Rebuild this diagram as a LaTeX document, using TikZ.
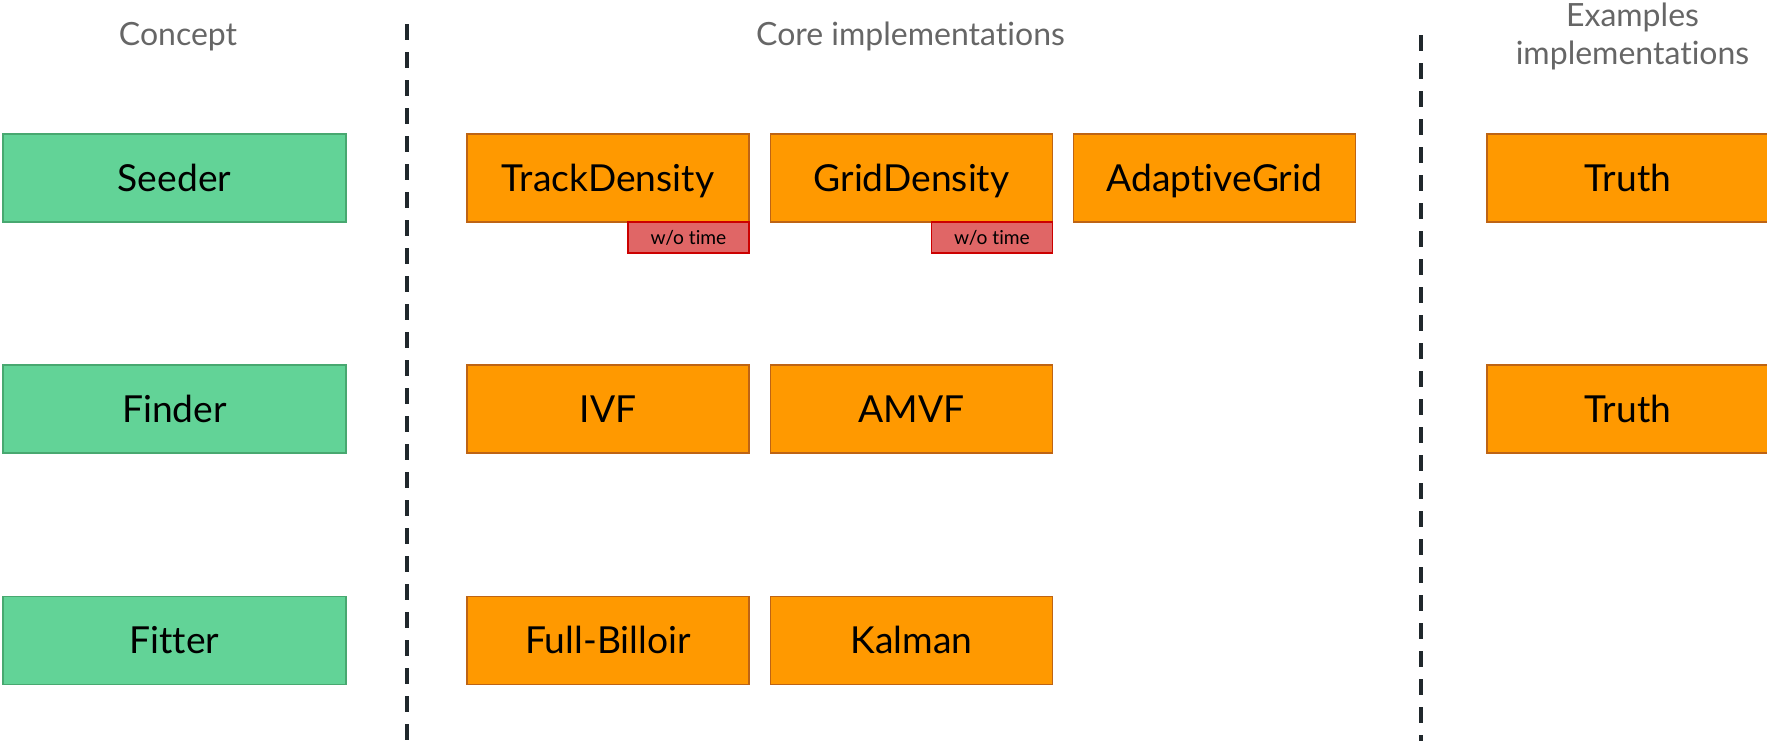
\documentclass[tikz,border=0pt]{standalone}
\usepackage{fontspec}
\setmainfont{Lato}[Ligatures=NoCommon]
\definecolor{conceptfill}{RGB}{98,211,151}
\definecolor{conceptdraw}{RGB}{72,168,112}
\definecolor{implfill}{RGB}{255,153,0}
\definecolor{impldraw}{RGB}{190,100,20}
\definecolor{tagfill}{RGB}{224,102,102}
\definecolor{tagdraw}{RGB}{204,0,0}
\definecolor{headgray}{RGB}{102,102,102}
\definecolor{sepline}{RGB}{32,40,44}
\tikzset{
  box/.style={rectangle, inner sep=0pt, minimum height=44pt, line width=0.6pt,
    font=\fontsize{18.6}{20}\selectfont, text height=13.3pt, text depth=0pt},
  concept/.style={box, fill=conceptfill, draw=conceptdraw, minimum width=171.5pt},
  impl/.style={box, fill=implfill, draw=impldraw, minimum width=141pt},
  tag/.style={rectangle, inner sep=0pt, minimum width=60.5pt, minimum height=15.5pt,
    fill=tagfill, draw=tagdraw, line width=0.6pt,
    font=\fontsize{9.6}{11}\selectfont, text height=6.9pt, text depth=0pt},
  header/.style={text=headgray, font=\fontsize{16}{19}\selectfont, anchor=base, align=center},
  separator/.style={draw=sepline, line width=2pt, dash pattern=on 8pt off 6pt}
}
\begin{document}
\begin{tikzpicture}[x=0.5pt, y=-0.5pt]
\useasboundingbox (0,0) rectangle (1767,740);
\clip (0,0) rectangle (1767,740);

% column headings
\node[header] (hconcept) at (178,45) {Concept};
\node[header] (hcore) at (910.5,45) {Core implementations};
\node[header] (hex) at (1632.5,64) {Examples\\implementations};

% column separators
\coordinate (s1top) at (407,24);
\coordinate (s1bot) at (407,745);
\coordinate (s2top) at (1421,35);
\coordinate (s2bot) at (1421,745);
\draw[separator] (s1top) -- (s1bot);
\draw[separator] (s2top) -- (s2bot);

% concepts
\node[concept] (seeder) at (174.5,178) {Seeder};
\node[concept] (finder) at (174.5,409) {Finder};
\node[concept] (fitter) at (174.5,640.5) {Fitter};

% seeders
\node[impl] (trackdensity) at (608,178) {TrackDensity};
\node[impl] (griddensity) at (911.5,178) {GridDensity};
\node[impl] (adaptivegrid) at (1214.5,178) {AdaptiveGrid};
\node[tag] (tagtrack) at (688.5,237.5) {w/o time};
\node[tag] (taggrid) at (992,237.5) {w/o time};

% finders
\node[impl] (ivf) at (608,409) {IVF};
\node[impl] (amvf) at (911.5,409) {AMVF};

% fitters
\node[impl] (billoir) at (608,640.5) {Full-Billoir};
\node[impl] (kalman) at (911.5,640.5) {Kalman};

% example implementations
\node[impl] (truthseed) at (1628,178) {Truth};
\node[impl] (truthfind) at (1628,409) {Truth};
\end{tikzpicture}
\end{document}
